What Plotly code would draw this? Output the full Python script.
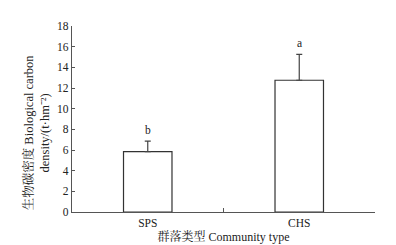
import plotly.graph_objects as go

categories = ["SPS", "CHS"]
values = [5.85, 12.75]
errors = [1.0, 2.5]
letters = ["b", "a"]
y_ticks = [0, 2, 4, 6, 8, 10, 12, 14, 16, 18]

FONT = "Liberation Serif, Times New Roman, Noto Serif CJK SC, Noto Sans CJK SC, serif"

fig = go.Figure()
fig.add_trace(go.Bar(
    x=categories, y=values,
    marker=dict(color="white", line=dict(color="#333333", width=1.2)),
    error_y=dict(type="data", array=errors, visible=True, symmetric=False,
                 arrayminus=[0, 0], color="#444444", thickness=1.2, width=3),
    width=0.32,
))
for c, v, e, t in zip(categories, values, errors, letters):
    fig.add_annotation(x=c, y=v + e, text=t, showarrow=False, yanchor="bottom",
                       yshift=3, font=dict(family=FONT, size=11.5, color="#222"))

# y-axis title as an annotation to control its position
fig.add_annotation(
    xref="paper", yref="paper", x=-0.118, y=0.43, xanchor="center", yanchor="middle",
    text="生物碳密度 Biological carbon<br>density/(t·hm⁻²)", textangle=-90,
    showarrow=False, font=dict(family=FONT, size=12.5, color="#222"),
)

fig.update_layout(
    width=396, height=245,
    margin=dict(l=64, r=29, t=15, b=41),
    paper_bgcolor="white", plot_bgcolor="white",
    showlegend=False,
    font=dict(family=FONT, size=11.5, color="#222"),
)
fig.update_xaxes(
    range=[-0.5, 1.5], tickson="boundaries", ticks="inside", ticklen=4,
    tickcolor="#555", showline=True, linecolor="#555", linewidth=1.2,
    showgrid=False, tickfont=dict(family=FONT, size=11.5),
    title=dict(text="群落类型 Community type", font=dict(family=FONT, size=12), standoff=1),
)
fig.update_yaxes(
    range=[0, 18], tickvals=y_ticks, ticks="inside", ticklen=3,
    tickcolor="#555", showline=True, linecolor="#555", linewidth=1.2,
    showgrid=False, zeroline=False, tickfont=dict(family=FONT, size=11.5),
)
fig.write_html("out.html")
